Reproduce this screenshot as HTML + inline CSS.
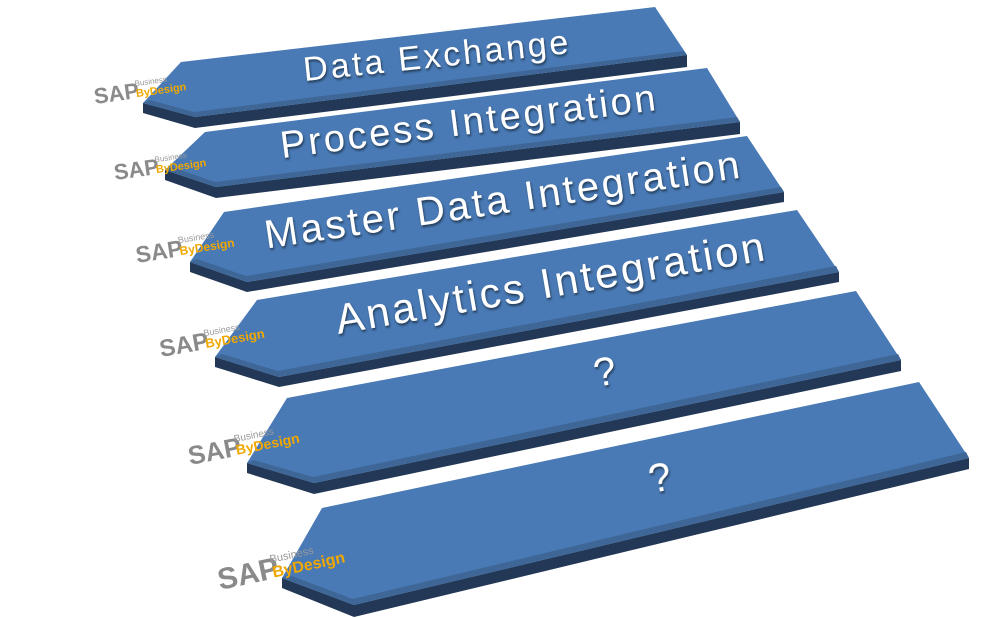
<!DOCTYPE html>
<html><head><meta charset="utf-8"><style>
body{margin:0;background:#fff;}
svg{display:block}
.t{font-family:"Liberation Sans",sans-serif;fill:#fff;letter-spacing:2.8px;}
.sap{font-family:"Liberation Sans",sans-serif;font-weight:bold;fill:#8a8a8a;}
.bd{font-family:"Liberation Sans",sans-serif;font-weight:bold;fill:#f0a800;}
.bs{font-family:"Liberation Sans",sans-serif;fill:#999;}
</style></head><body>
<svg width="988" height="618" viewBox="0 0 988 618" xmlns="http://www.w3.org/2000/svg">
<defs>
<filter id="sh" x="-10%" y="-10%" width="120%" height="140%"><feDropShadow dx="1" dy="2" stdDeviation="1" flood-color="#1a2a40" flood-opacity="0.8"/></filter>
</defs>
<g id="arrows">
<polygon points="143,103 195,117 687,55 687,67 195,128 143,113" fill="#233756"/>
<polygon points="181,62 655,7 687,55 195,117 143,103" fill="#4a7ab5"/>
<polygon points="143,103 195,117 687,55 684,51 194,112 150,100" fill="#3e6797"/>
<polygon points="165,170 216,187 740,122 740,134 216,198 165,180" fill="#233756"/>
<polygon points="205,132 707,68 740,122 216,187 165,170" fill="#4a7ab5"/>
<polygon points="165,170 216,187 740,122 737,117 215,182 172,167" fill="#3e6797"/>
<polygon points="190,262 247,282 784,192 784,202 247,292 190,272" fill="#233756"/>
<polygon points="224,212 747,136 784,192 247,282 190,262" fill="#4a7ab5"/>
<polygon points="190,262 247,282 784,192 781,187 246,276 197,259" fill="#3e6797"/>
<polygon points="215,357 279,377 839,272 839,282 279,387 215,367" fill="#233756"/>
<polygon points="257,300 797,210 839,272 279,377 215,357" fill="#4a7ab5"/>
<polygon points="215,357 279,377 839,272 836,266 278,371 222,354" fill="#3e6797"/>
<polygon points="247,463 314,483 901,360 901,371 314,494 247,473" fill="#233756"/>
<polygon points="287,398 856,291 901,360 314,483 247,463" fill="#4a7ab5"/>
<polygon points="247,463 314,483 901,360 898,354 313,477 254,460" fill="#3e6797"/>
<polygon points="282,578 354,605 969,458 969,469 354,617 282,588" fill="#233756"/>
<polygon points="322,508 919,382 969,458 354,605 282,578" fill="#4a7ab5"/>
<polygon points="282,578 354,605 969,458 966,452 353,599 289,575" fill="#3e6797"/>
</g>
<g filter="url(#sh)">
<text class="t" x="437" y="67" font-size="34" text-anchor="middle" transform="rotate(-6 437 55)">Data Exchange</text>
<text class="t" x="469" y="134" font-size="38" text-anchor="middle" transform="rotate(-7.3 469 120)">Process Integration</text>
<text class="t" x="503" y="213" font-size="40" text-anchor="middle" transform="rotate(-8.5 503 198)">Master Data Integration</text>
<text class="t" x="551" y="297" font-size="42" text-anchor="middle" transform="rotate(-9.8 551 282)">Analytics Integration</text>
<text class="t" x="606" y="385" font-size="40" text-anchor="middle" transform="rotate(-10 606 370)">?</text>
<text class="t" x="661" y="491" font-size="40" text-anchor="middle" transform="rotate(-11 661 476)">?</text>
</g>
<g>
<g transform="translate(95,104) rotate(-8)"><text class="sap" font-size="22" x="0" y="0">SAP</text><text class="bs" font-size="8" x="42" y="-12">Business</text><text class="bd" font-size="11" x="42" y="-1">ByDesign</text></g>
<g transform="translate(115,180) rotate(-8)"><text class="sap" font-size="22" x="0" y="0">SAP</text><text class="bs" font-size="8" x="42" y="-12">Business</text><text class="bd" font-size="11" x="42" y="-1">ByDesign</text></g>
<g transform="translate(137,263) rotate(-9)"><text class="sap" font-size="23" x="0" y="0">SAP</text><text class="bs" font-size="9" x="44" y="-13">Business</text><text class="bd" font-size="12" x="44" y="-1">ByDesign</text></g>
<g transform="translate(161,357) rotate(-10)"><text class="sap" font-size="24" x="0" y="0">SAP</text><text class="bs" font-size="9" x="46" y="-13">Business</text><text class="bd" font-size="13" x="46" y="-1">ByDesign</text></g>
<g transform="translate(190,465) rotate(-11)"><text class="sap" font-size="26" x="0" y="0">SAP</text><text class="bs" font-size="10" x="48" y="-14">Business</text><text class="bd" font-size="14" x="48" y="-1">ByDesign</text></g>
<g transform="translate(220,590) rotate(-12)"><text class="sap" font-size="30" x="0" y="0">SAP</text><text class="bs" font-size="11" x="55" y="-16">Business</text><text class="bd" font-size="16" x="55" y="-1">ByDesign</text></g>
</g>
</svg>
</body></html>
